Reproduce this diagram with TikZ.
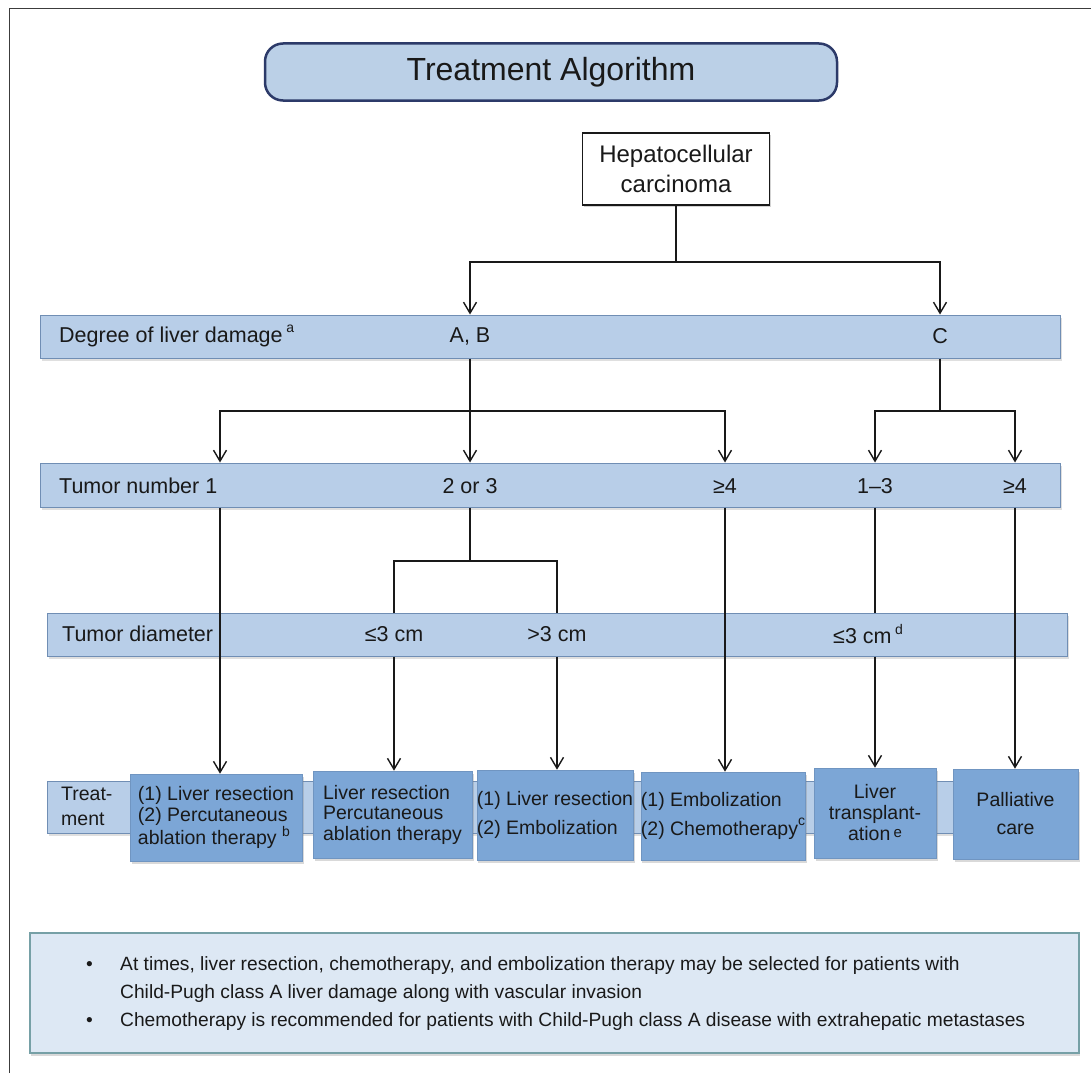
\documentclass[tikz,border=0pt]{standalone}
\usepackage{fontspec}
\setmainfont{Liberation Sans}
\usetikzlibrary{arrows.meta,shadows}
\definecolor{titlefill}{RGB}{187,208,231}
\definecolor{titledraw}{RGB}{44,58,105}
\definecolor{barfill}{RGB}{184,206,232}
\definecolor{bardraw}{RGB}{112,142,180}
\definecolor{boxfill}{RGB}{124,166,214}
\definecolor{notefill}{RGB}{221,232,244}
\definecolor{notedraw}{RGB}{118,160,166}
\definecolor{framecol}{RGB}{60,60,60}
\definecolor{inkcol}{RGB}{25,25,25}
\begin{document}
\begin{tikzpicture}[x=1pt,y=-1pt,
  every node/.style={text=inkcol},
  titlebox/.style={draw=titledraw, fill=titlefill, line width=2.5pt, rounded corners=18pt,
    inner sep=0pt, font=\fontsize{32}{36}\selectfont},
  startbox/.style={draw=inkcol, fill=white, line width=1.6pt, inner sep=0pt, align=center,
    font=\fontsize{24}{30}\selectfont,
    drop shadow={shadow xshift=1.5pt, shadow yshift=-1.5pt, opacity=0.35}},
  bar/.style={draw=bardraw, fill=barfill, line width=1pt, inner sep=0pt,
    drop shadow={shadow xshift=1.5pt, shadow yshift=-2.5pt, opacity=0.25}},
  barlabel/.style={inner sep=0pt, font=\fontsize{21.5}{24}\selectfont},
  treatbox/.style={fill=boxfill, draw=boxfill!90!black, line width=0.6pt, inner sep=0pt, align=center,
    font=\fontsize{19.5}{20.5}\selectfont,
    drop shadow={shadow xshift=1.5pt, shadow yshift=-2.5pt, opacity=0.3}},
  notebox/.style={draw=notedraw, fill=notefill, line width=1.5pt, inner sep=0pt,
    drop shadow={shadow xshift=1pt, shadow yshift=-3pt, opacity=0.3}},
  notetext/.style={inner sep=0pt, anchor=mid west, font=\fontsize{19.2}{24}\selectfont},
  conn/.style={draw=inkcol, line width=1.5pt},
  arr/.style={conn, -{Straight Barb[length=11pt, width=13pt, line width=1.4pt]}}
]
\useasboundingbox (0,0) rectangle (1091,1073);
\draw[framecol, line width=1pt] (9,1073) -- (9,9) -- (1091,9);

% title
\node[titlebox, minimum width=572pt, minimum height=57pt] (title) at (551,72) {Treatment Algorithm};

% start
\node[startbox, minimum width=187pt, minimum height=72pt] (hcc) at (676,169) {Hepatocellular\\carcinoma};

% bars
\node[bar, minimum width=1020pt, minimum height=43pt] (degbar) at (550,336.5) {};
\node[barlabel, anchor=west] (degl) at (59,336) {Degree of liver damage\,\raisebox{0.45em}{\fontsize{14}{14}\selectfont a}};
\node[barlabel] (ab) at (470,336) {A, B};
\node[barlabel] (c) at (940,336) {C};

\node[bar, minimum width=1020pt, minimum height=44pt] (tumbar) at (550,485) {};
\node[barlabel, anchor=west] (tuml) at (59,486) {Tumor number 1};
\node[barlabel] (n23) at (470,486) {2 or 3};
\node[barlabel] (n4a) at (725,486) {≥4};
\node[barlabel] (n13) at (875,486) {1–3};
\node[barlabel] (n4b) at (1015,486) {≥4};

\node[bar, minimum width=1020pt, minimum height=43pt] (diambar) at (557,634.5) {};
\node[barlabel, anchor=west] (diaml) at (62,634) {Tumor diameter};
\node[barlabel] (d1) at (394,634) {≤3 cm};
\node[barlabel] (d2) at (557,634) {>3 cm};
\node[barlabel, anchor=west] (d3) at (833,634) {≤3 cm\,\raisebox{0.45em}{\fontsize{14}{14}\selectfont d}};

% treatment strip
\node[bar, minimum width=1028pt, minimum height=52pt] (tstrip) at (561,807) {};
\node[inner sep=0pt, anchor=west, align=left, font=\fontsize{19.5}{25}\selectfont] (treatl) at (61,806) {Treat-\\ment};

\node[treatbox, minimum width=172pt, minimum height=87pt, align=left] (box1) at (216,817.5)
  {(1) Liver resection\\(2) Percutaneous\\ablation therapy \raisebox{0.4em}{\fontsize{14}{14}\selectfont b}};
\node[treatbox, minimum width=159pt, minimum height=87pt, align=left] (box2) at (392.5,814.5)
  {Liver resection\\Percutaneous\\ablation therapy};
\node[treatbox, minimum width=148pt, minimum height=90pt, align=left,
  font=\fontsize{19.5}{29}\selectfont] (box3) at (555,815)
  {(1) Liver resection\\(2) Embolization};
\node[treatbox, minimum width=164pt, minimum height=88pt, align=left,
  font=\fontsize{19.5}{29}\selectfont] (box4) at (723,816)
  {(1) Embolization\\(2) Chemotherapy\raisebox{0.5em}{\fontsize{14}{14}\selectfont c}};
\node[treatbox, minimum width=122pt, minimum height=90pt, font=\fontsize{19.5}{21}\selectfont] (box5) at (875,813)
  {Liver\\transplant-\\ation\,\raisebox{0.2em}{\fontsize{15}{15}\selectfont e}};
\node[treatbox, minimum width=125pt, minimum height=90pt, font=\fontsize{19.5}{28}\selectfont] (box6) at (1015.5,814)
  {Palliative\\care};

% note box
\node[notebox, minimum width=1049pt, minimum height=120pt] (note) at (554.5,993) {};
\node[notetext] (b1) at (86,968) {•};
\node[notetext] (l1) at (120,968) {At times, liver resection, chemotherapy, and embolization therapy may be selected for patients with};
\node[notetext] (l2) at (120,996) {Child-Pugh class A liver damage along with vascular invasion};
\node[notetext] (b2) at (86,1024) {•};
\node[notetext] (l3) at (120,1024) {Chemotherapy is recommended for patients with Child-Pugh class A disease with extrahepatic metastases};

% junctions
\coordinate (j1) at (676,262);
\coordinate (j2) at (470,411);
\coordinate (j3) at (940,411);
\coordinate (j4) at (470,561);
\coordinate (col1) at (220,0);

% connectors
\draw[conn] (hcc.south) -- (j1);
\draw[arr] (j1) -| (ab |- degbar.north);
\draw[arr] (j1) -| (c |- degbar.north);

\draw[arr] (ab |- degbar.south) -- (ab |- tumbar.north);
\draw[arr] (j2) -| (col1 |- tumbar.north);
\draw[arr] (j2) -| (n4a |- tumbar.north);
\draw[conn] (c |- degbar.south) -- (j3);
\draw[arr] (j3) -| (n13 |- tumbar.north);
\draw[arr] (j3) -| (n4b |- tumbar.north);

\draw[conn] (n23 |- tumbar.south) -- (j4);
\draw[conn] (j4) -| (d1 |- diambar.north);
\draw[conn] (j4) -| (d2 |- diambar.north);
\draw[arr] (d1 |- diambar.south) -- (d1 |- box2.north);
\draw[arr] (d2 |- diambar.south) -- (d2 |- box3.north);

\draw[arr] (col1 |- tumbar.south) -- (col1 |- box1.north);
\draw[arr] (n4a |- tumbar.south) -- (n4a |- box4.north);
\draw[conn] (n13 |- tumbar.south) -- (n13 |- diambar.north);
\draw[arr] (n13 |- diambar.south) -- (n13 |- box5.north);
\draw[arr] (n4b |- tumbar.south) -- (n4b |- box6.north);
\end{tikzpicture}
\end{document}
